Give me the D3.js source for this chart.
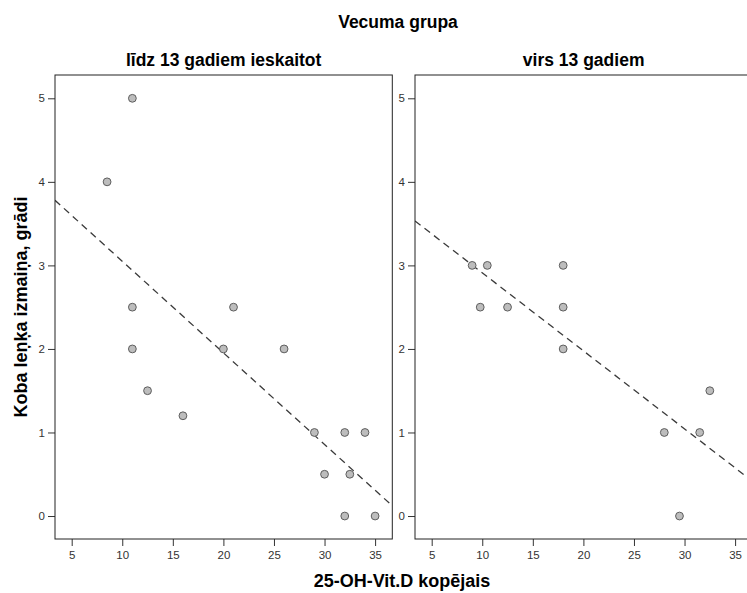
<!DOCTYPE html>
<html>
<head>
<meta charset="utf-8">
<script src="https://cdn.jsdelivr.net/npm/d3@7"></script>
<style>
  html, body { margin: 0; padding: 0; background: #fff; }
  svg { display: block; font-family: "Liberation Sans", Arial, sans-serif; }
</style>
</head>
<body>
<svg id="chart" width="747" height="593"></svg>
<script>
// Age groups (panel titles)
const groupNames = ["līdz 13 gadiem ieskaitot", "virs 13 gadiem"];

// Group 1: up to 13 years inclusive
const youngVitD  = [11, 8.5, 11, 21, 11, 20, 26, 12.5, 16, 29, 32, 34, 30, 32.5, 32, 35];
const youngAngle = [5, 4, 2.5, 2.5, 2, 2, 2, 1.5, 1.2, 1, 1, 1, 0.5, 0.5, 0, 0];

// Group 2: over 13 years
const olderVitD  = [9, 10.5, 9.8, 12.5, 18, 18, 18, 32.5, 28, 31.5, 29.5];
const olderAngle = [3, 3, 2.5, 2.5, 3, 2.5, 2, 1.5, 1, 1, 0];

// Axis ticks
const xTicks = [5, 10, 15, 20, 25, 30, 35];
const yTicks = [0, 1, 2, 3, 4, 5];

const svg = d3.select("#chart");

const panelW = 337.3, plotTop = 75, plotBottom = 539;
const panelLefts = [55, 415];

const y = d3.scaleLinear().domain([-0.275, 5.279]).range([plotBottom, plotTop]);

const panels = [
  { name: groupNames[0], xs: youngVitD, ys: youngAngle },
  { name: groupNames[1], xs: olderVitD, ys: olderAngle }
];

// Ordinary least squares fit
function fit(xs, ys) {
  const mx = d3.mean(xs), my = d3.mean(ys);
  let sxy = 0, sxx = 0;
  xs.forEach((v, i) => { sxy += (v - mx) * (ys[i] - my); sxx += (v - mx) * (v - mx); });
  const b = sxy / sxx;
  return { b, a: my - b * mx };
}

panels.forEach((p, i) => {
  const left = panelLefts[i];
  const x = d3.scaleLinear().domain([3.35, 36.7]).range([left, left + panelW]);
  const g = svg.append("g");

  // panel title
  g.append("text")
    .attr("x", left + panelW / 2).attr("y", 66)
    .attr("text-anchor", "middle")
    .attr("font-size", 17.5).attr("font-weight", "bold").attr("fill", "#000")
    .text(p.name);

  // y axis
  const yAxis = g.append("g")
    .attr("transform", `translate(${left},0)`)
    .call(d3.axisLeft(y).tickValues(yTicks).tickFormat(d3.format("d")).tickSize(7).tickPadding(3));
  yAxis.select(".domain").remove();
  yAxis.selectAll("text").attr("font-size", 11.5).attr("fill", "#333").attr("font-family", "Liberation Sans, Arial, sans-serif");
  yAxis.selectAll("line").attr("stroke", "#333");

  // x axis
  const xAxis = g.append("g")
    .attr("transform", `translate(0,${plotBottom})`)
    .call(d3.axisBottom(x).tickValues(xTicks).tickFormat(d3.format("d")).tickSize(7).tickPadding(5));
  xAxis.select(".domain").remove();
  xAxis.selectAll("text").attr("font-size", 11.5).attr("fill", "#333").attr("font-family", "Liberation Sans, Arial, sans-serif");
  xAxis.selectAll("line").attr("stroke", "#333");

  // clip for plotting region
  const clipId = "clip" + i;
  svg.append("clipPath").attr("id", clipId)
    .append("rect").attr("x", left).attr("y", plotTop).attr("width", panelW).attr("height", plotBottom - plotTop);

  const plot = g.append("g").attr("clip-path", `url(#${clipId})`);

  // regression line
  const f = fit(p.xs, p.ys);
  const [x0, x1] = x.domain();
  plot.append("line")
    .attr("x1", x(x0)).attr("y1", y(f.a + f.b * x0))
    .attr("x2", x(x1)).attr("y2", y(f.a + f.b * x1))
    .attr("stroke", "#3a3a3a").attr("stroke-width", 1.3)
    .attr("stroke-dasharray", "7,5");

  // points
  plot.selectAll("circle")
    .data(p.xs.map((v, k) => [v, p.ys[k]]))
    .join("circle")
    .attr("cx", d => x(d[0])).attr("cy", d => y(d[1]))
    .attr("r", 3.9)
    .attr("fill", "#bdbdbd").attr("stroke", "#5e5e5e").attr("stroke-width", 1);

  // frame
  g.append("rect")
    .attr("x", left).attr("y", plotTop).attr("width", panelW).attr("height", plotBottom - plotTop)
    .attr("fill", "none").attr("stroke", "#222").attr("stroke-width", 1);
});

// overall titles
svg.append("text")
  .attr("x", 398).attr("y", 28).attr("text-anchor", "middle")
  .attr("font-size", 17.5).attr("font-weight", "bold")
  .text("Vecuma grupa");

svg.append("text")
  .attr("x", 402).attr("y", 587).attr("text-anchor", "middle")
  .attr("font-size", 18).attr("font-weight", "bold")
  .text("25-OH-Vit.D kopējais");

svg.append("text")
  .attr("transform", "translate(27,307) rotate(-90)")
  .attr("text-anchor", "middle")
  .attr("font-size", 18).attr("font-weight", "bold")
  .text("Koba leņķa izmaiņa, grādi");
</script>
</body>
</html>
